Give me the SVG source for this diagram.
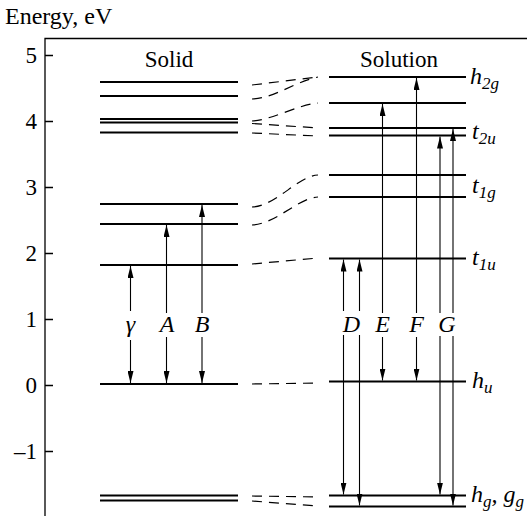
<svg xmlns="http://www.w3.org/2000/svg" width="527" height="516" viewBox="0 0 527 516" font-family="'Liberation Serif', 'DejaVu Serif', serif">
<defs>
<marker id="ah" viewBox="0 0 12 6" refX="12" refY="3" markerWidth="12" markerHeight="6" markerUnits="userSpaceOnUse" orient="auto">
<path d="M0,0 L12,3 L0,6 Z" fill="#000"/>
</marker>
<style>
text{font-family:'Liberation Serif','DejaVu Serif',serif;fill:#000}
.num{font-size:23px;text-anchor:end}
.ttl{font-size:23px;text-anchor:middle}
.lbl{font-size:24px;font-style:italic;text-anchor:middle}
.sym{font-size:24px;font-style:italic}
.sub{font-size:17px}
.lev{stroke:#000;stroke-width:2;fill:none}
.ax{stroke:#000;stroke-width:1.3;fill:none}
.dash{stroke:#000;stroke-width:1.2;fill:none;stroke-dasharray:10 7}
.arr{stroke:#000;stroke-width:1.1;fill:none;marker-end:url(#ah)}
</style>
</defs>
<rect width="527" height="516" fill="#fff"/>
<g id="axis">
<text x="5" y="24" style="font-size:24px">Energy, eV</text>
<path class="ax" d="M45,516 V38.5 H527"/>
<path class="ax" d="M45,55.5 H53 M45,121.5 H53 M45,187.5 H53 M45,253.5 H53 M45,319.5 H53 M45,385.5 H53 M45,451.5 H53"/>
<text class="num" x="37" y="63">5</text>
<text class="num" x="37" y="129">4</text>
<text class="num" x="37" y="195">3</text>
<text class="num" x="37" y="261">2</text>
<text class="num" x="37" y="327">1</text>
<text class="num" x="37" y="393">0</text>
<text class="num" x="37" y="459">–1</text>
</g>
<g id="solid">
<text class="ttl" x="169" y="67">Solid</text>
<path class="lev" d="M100,82 H238 M100,96 H238 M100,119 H238 M100,122.5 H238 M100,132.5 H238 M100,204 H238 M100,224 H238 M100,265 H238 M100,384 H238 M100,495.5 H238 M100,500.5 H238"/>
</g>
<g id="solution">
<text class="ttl" x="399" y="67">Solution</text>
<path class="lev" d="M329,77 H466 M329,103 H466 M329,128 H466 M329,135.5 H466 M329,175 H466 M329,197 H466 M329,258.5 H466 M329,381.5 H466 M329,495.5 H466 M329,506.5 H466"/>
</g>
<g id="state-labels">
<text class="sym" x="470" y="84">h<tspan class="sub" dy="5">2g</tspan></text>
<text class="sym" x="472" y="139">t<tspan class="sub" dy="5">2u</tspan></text>
<text class="sym" x="472" y="193">t<tspan class="sub" dy="5">1g</tspan></text>
<text class="sym" x="472" y="265">t<tspan class="sub" dy="5">1u</tspan></text>
<text class="sym" x="472" y="388">h<tspan class="sub" dy="5">u</tspan></text>
<text class="sym" x="471" y="502">h<tspan class="sub" dy="5">g</tspan><tspan dy="-5">, g</tspan><tspan class="sub" dy="5">g</tspan></text>
</g>
<g id="connectors">
<path class="dash" d="M252,85 L318,77"/>
<path class="dash" d="M252,99 C275,98 292,83 318,77"/>
<path class="dash" d="M252,121 C272,120 300,104 318,103"/>
<path class="dash" d="M252,123.5 L318,128"/>
<path class="dash" d="M252,133 L318,136"/>
<path class="dash" d="M252,207 C276,206 298,176 318,175"/>
<path class="dash" d="M252,225 C276,224 298,198 318,197"/>
<path class="dash" d="M252,264 L318,258"/>
<path class="dash" d="M252,384 L318,383"/>
<path class="dash" d="M252,496 L318,497"/>
<path class="dash" d="M252,501 L318,506"/>
</g>
<g id="transitions">
<path class="arr" d="M130.5,311 V266"/>
<path class="arr" d="M130.5,340 V383"/>
<path class="arr" d="M166.5,313 V225"/>
<path class="arr" d="M166.5,337 V383"/>
<path class="arr" d="M202,313 V205"/>
<path class="arr" d="M202,337 V383"/>
<path class="arr" d="M343.5,311 V259.5"/>
<path class="arr" d="M343.5,335 V494.5"/>
<path class="arr" d="M359.5,311 V259.5"/>
<path class="arr" d="M359.5,335 V505.5"/>
<path class="arr" d="M382.5,313 V104"/>
<path class="arr" d="M382.5,337 V380.5"/>
<path class="arr" d="M416.5,313 V78"/>
<path class="arr" d="M416.5,337 V380.5"/>
<path class="arr" d="M440,313 V136.5"/>
<path class="arr" d="M440,336 V494.5"/>
<path class="arr" d="M453,313 V129"/>
<path class="arr" d="M453,336 V505.5"/>
<text class="lbl" x="130.5" y="332">γ</text>
<text class="lbl" x="167" y="332">A</text>
<text class="lbl" x="202" y="332">B</text>
<text class="lbl" x="351.5" y="332">D</text>
<text class="lbl" x="382.5" y="332">E</text>
<text class="lbl" x="416.5" y="332">F</text>
<text class="lbl" x="447" y="332">G</text>
</g>
</svg>
